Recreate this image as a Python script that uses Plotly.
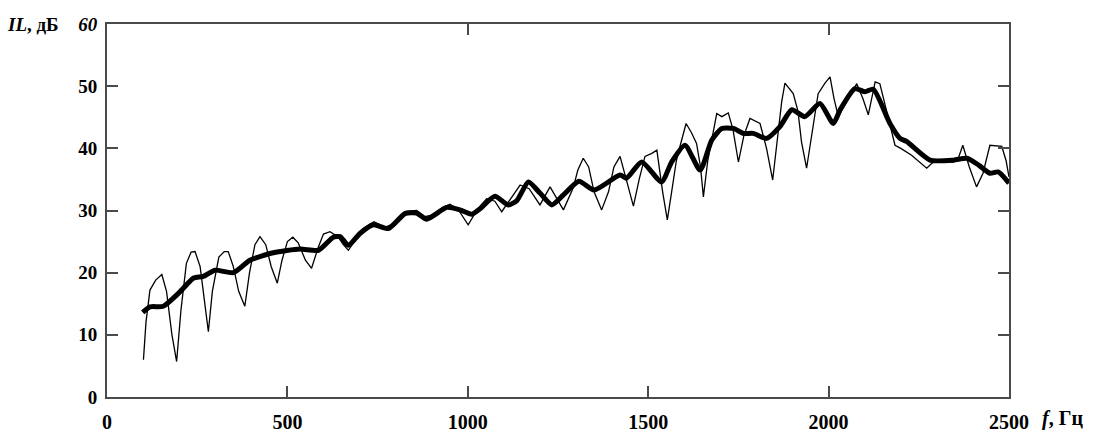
import plotly.graph_objects as go

# ---- data ----
thick_f = [99, 119, 156, 202, 239, 267, 299, 350, 396, 461, 535, 586, 627, 646, 669, 701, 738, 780,
           826, 858, 886, 942, 978, 1011, 1034, 1075, 1112, 1136, 1168, 1200, 1233, 1265, 1308, 1350,
           1422, 1440, 1482, 1537, 1565, 1602, 1644, 1676, 1704, 1736, 1764, 1791, 1828, 1865, 1898,
           1934, 1976, 2013, 2032, 2073, 2101, 2124, 2170, 2198, 2216, 2281, 2346, 2383, 2416, 2447,
           2470, 2500]
thick_v = [13.6, 14.5, 14.6, 16.9, 19.1, 19.4, 20.4, 20.0, 22.0, 23.2, 23.8, 23.6, 25.7, 25.8, 24.4,
           26.3, 27.7, 27.1, 29.5, 29.6, 28.6, 30.5, 30.1, 29.4, 30.3, 32.3, 30.9, 31.6, 34.6, 32.8,
           30.9, 32.5, 34.7, 33.3, 35.7, 35.2, 37.8, 34.6, 37.8, 40.5, 36.5, 41.3, 43.2, 43.2, 42.4,
           42.4, 41.6, 43.5, 46.2, 45.1, 47.2, 44.0, 46.2, 49.6, 49.1, 49.5, 44.0, 41.6, 41.1, 38.1,
           38.1, 38.4, 37.3, 36.0, 36.2, 34.4]

thin_f = [101, 108, 119, 135, 152, 165, 180, 193, 205, 220, 233, 244, 258, 270, 281, 292, 310, 325,
          336, 350, 365, 382, 395, 410, 424, 440, 455, 472, 485, 500, 515, 530, 550, 567, 585, 600,
          618, 640, 655, 669, 690, 710, 740, 770, 800, 826, 858, 880, 905, 930, 951, 975, 1001, 1025,
          1052, 1075, 1094, 1120, 1145, 1170, 1200, 1228, 1245, 1265, 1292, 1305, 1320, 1335, 1350,
          1371, 1390, 1405, 1422, 1440, 1459, 1475, 1491, 1510, 1524, 1540, 1553, 1565, 1578, 1588,
          1605, 1620, 1634, 1645, 1653, 1665, 1690, 1704, 1722, 1735, 1750, 1765, 1782, 1810, 1828,
          1845, 1860, 1870, 1879, 1902, 1915, 1925, 1939, 1955, 1971, 1990, 2004, 2015, 2027, 2050,
          2078, 2095, 2110, 2129, 2142, 2165, 2184, 2200, 2230, 2272, 2290, 2346, 2360, 2372, 2390,
          2410, 2428, 2447, 2480, 2492, 2500]
thin_v = [6.0, 12.0, 17.2, 18.8, 19.7, 17.0, 10.0, 5.7, 14.0, 21.5, 23.3, 23.4, 21.0, 15.0, 10.5,
          17.0, 22.5, 23.4, 23.4, 21.0, 17.0, 14.6, 20.0, 24.5, 25.8, 24.5, 21.0, 18.3, 22.0, 25.0,
          25.7, 24.8, 22.0, 20.7, 24.0, 26.2, 26.6, 25.8, 24.5, 23.6, 25.5, 27.1, 28.2, 27.3, 28.0,
          29.8, 30.0, 29.0, 29.3, 30.5, 31.0, 30.0, 27.7, 30.0, 31.9, 31.5, 29.8, 32.0, 34.1, 33.5,
          30.9, 33.8, 32.0, 30.1, 33.6, 36.5, 38.4, 37.0, 33.0, 30.1, 33.0, 37.0, 38.7, 35.0, 30.7,
          35.0, 38.7, 39.2, 39.7, 33.0, 28.5, 33.0, 38.0, 40.3, 44.0, 42.5, 40.8, 37.0, 32.2, 38.0,
          45.6, 45.1, 45.7, 43.0, 37.8, 42.0, 44.8, 44.0, 40.0, 34.9, 42.0, 47.5, 50.5, 48.8, 46.0,
          41.0, 36.8, 43.0, 48.8, 50.5, 51.5, 48.0, 45.1, 47.5, 50.4, 48.0, 45.4, 50.7, 50.4, 45.0,
          40.5, 40.0, 38.9, 36.8, 37.8, 37.8, 38.5, 40.5, 37.0, 33.8, 36.0, 40.5, 40.3, 38.0, 35.4]

x_tickvals = [0, 500, 1000, 1500, 2000, 2500]
x_ticktext = ["0", "500", "1000", "1500", "2000", "2500"]
x_top_tickvals = [1000, 2000]
y_tickvals = [0, 10, 20, 30, 40, 50, 60]
y_ticktext = ["0", "10", "20", "30", "40", "50", "<i>60</i>"]

FONT = "Liberation Serif"
AX = "#4a4a4a"

fig = go.Figure()
fig.add_trace(go.Scatter(x=thin_f, y=thin_v, mode="lines",
                         line=dict(color="black", width=1.3), showlegend=False))
fig.add_trace(go.Scatter(x=thick_f, y=thick_v, mode="lines",
                         line=dict(color="black", width=5, shape="spline", smoothing=0.6),
                         showlegend=False))
# invisible trace to make the top axis render
fig.add_trace(go.Scatter(x=[x_tickvals[0]], y=[y_tickvals[0]], xaxis="x2", mode="markers",
                         marker=dict(opacity=0), showlegend=False, hoverinfo="skip"))

fig.update_layout(
    width=1096, height=448,
    margin=dict(l=107, r=87, t=24, b=51),
    paper_bgcolor="white", plot_bgcolor="white",
    xaxis=dict(range=[0, 2500], tickvals=x_tickvals, ticktext=x_ticktext,
               showline=True, linecolor=AX, linewidth=2, mirror=True,
               ticks="inside", ticklen=11, tickwidth=1.5, tickcolor=AX,
               showgrid=False, zeroline=False, ticklabelstandoff=6,
               tickfont=dict(family=FONT, size=20, color="black", weight="bold")),
    xaxis2=dict(range=[0, 2500], overlaying="x", side="top", anchor="y",
                tickvals=x_top_tickvals, showticklabels=False,
                ticks="inside", ticklen=11, tickwidth=1.5, tickcolor=AX,
                showline=False, showgrid=False, zeroline=False),
    yaxis=dict(range=[0, 60], tickvals=y_tickvals, ticktext=y_ticktext,
               showline=True, linecolor=AX, linewidth=2, mirror="ticks",
               ticks="inside", ticklen=11, tickwidth=1.5, tickcolor=AX,
               showgrid=False, zeroline=False, ticklabelstandoff=4,
               tickfont=dict(family=FONT, size=19, color="black", weight="bold")),
    annotations=[
        dict(text="<b><i>IL</i>, дБ</b>", xref="paper", yref="y", x=-0.113, y=60,
             xanchor="left", yanchor="middle", showarrow=False,
             font=dict(family=FONT, size=19, color="black")),
        dict(text="<b><i>f</i>, Гц</b>", xref="paper", yref="y", x=1.034, y=0,
             xanchor="left", yanchor="middle", yshift=-21, showarrow=False,
             font=dict(family=FONT, size=20, color="black")),
    ],
)

fig.write_html("out.html", config={"displayModeBar": False},
               post_script="document.body.style.margin='0';document.body.style.overflow='hidden';")
